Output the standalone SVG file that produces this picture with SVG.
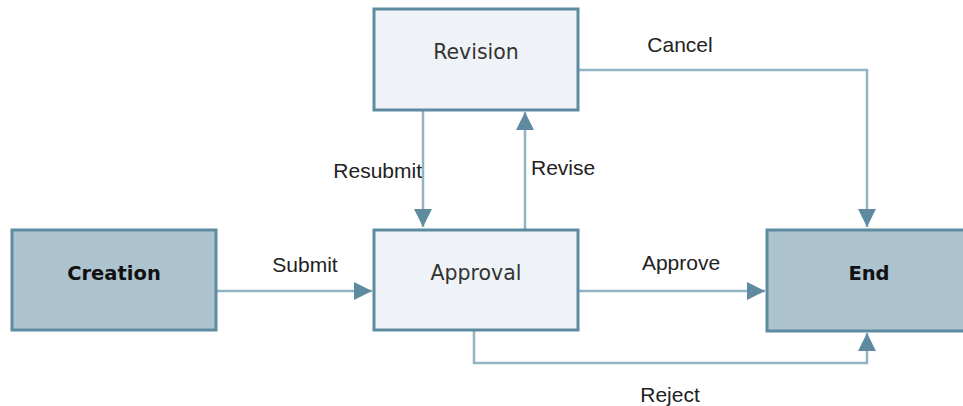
<svg xmlns="http://www.w3.org/2000/svg" width="963" height="406" viewBox="0 0 963 406">
<style>
.node rect{stroke:#5f8ba0;stroke-width:3}
.dark rect{fill:#adc4d0}
.light rect{fill:#eff3f8}
.nt{font-family:"DejaVu Sans",Verdana,sans-serif;font-size:20.5px;text-anchor:middle;fill:#333}
.dark .nt{font-weight:bold;fill:#111;font-size:19.5px}
.conn path{fill:none;stroke:#92b3c3;stroke-width:2.5}
.el{font-family:"Liberation Sans",Arial,sans-serif;font-size:21px;fill:#222}
</style>
<defs>
<marker id="ah" viewBox="0 0 10 10" refX="10" refY="5" markerWidth="18" markerHeight="18" markerUnits="userSpaceOnUse" orient="auto">
<path d="M0,0 L10,5 L0,10 Z" fill="#5f8ba0"/>
</marker>
</defs>
<g id="connectors" class="conn">
<path d="M216,291 H372" marker-end="url(#ah)"/>
<path d="M578,291 H765" marker-end="url(#ah)"/>
<path d="M423,110 V227" marker-end="url(#ah)"/>
<path d="M525,229 V112" marker-end="url(#ah)"/>
<path d="M578,70 H867 V227" marker-end="url(#ah)"/>
<path d="M474,330 V363 H867 V333" marker-end="url(#ah)"/>
</g>
<g id="edge-labels">
<text class="el" x="305" y="272" text-anchor="middle">Submit</text>
<text class="el" x="681" y="270" text-anchor="middle">Approve</text>
<text class="el" x="422" y="178" text-anchor="end">Resubmit</text>
<text class="el" x="531" y="175">Revise</text>
<text class="el" x="680" y="52" text-anchor="middle">Cancel</text>
<text class="el" x="670" y="402" text-anchor="middle">Reject</text>
</g>
<g id="creation" class="node dark">
<rect x="12" y="230" width="204" height="100"/>
<text class="nt" x="114" y="280">Creation</text>
</g>
<g id="approval" class="node light">
<rect x="374" y="230" width="204" height="100"/>
<text class="nt" x="476" y="280">Approval</text>
</g>
<g id="revision" class="node light">
<rect x="374" y="9" width="204" height="101"/>
<text class="nt" x="476" y="59">Revision</text>
</g>
<g id="end" class="node dark">
<rect x="767" y="230" width="200" height="101"/>
<text class="nt" x="869" y="280">End</text>
</g>
</svg>
